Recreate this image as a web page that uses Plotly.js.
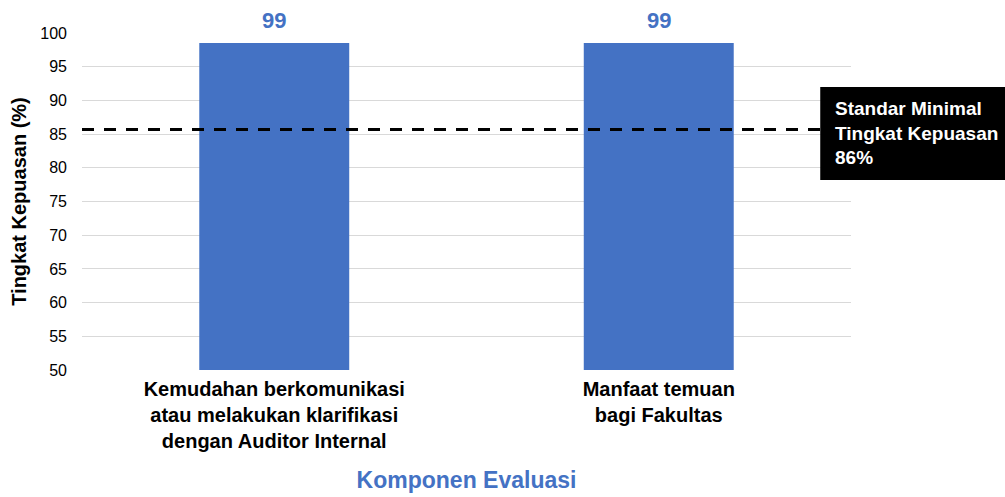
<!DOCTYPE html>
<html>
<head>
<meta charset="utf-8">
<script src="https://cdn.plot.ly/plotly-3.0.1.min.js"></script>
<style>html,body{margin:0;padding:0;background:#fff;}#chart{width:1005px;height:497px;}</style>
</head>
<body>
<div id="chart"></div>
<script>
const categories = [
  "Kemudahan berkomunikasi<br>atau melakukan klarifikasi<br>dengan Auditor Internal",
  "Manfaat temuan<br>bagi Fakultas"
];
const values = [98.5, 98.5];
const valueLabels = ["99", "99"];
const standardValue = 85.7;
const standardLabel = "Standar Minimal<br>Tingkat Kepuasan<br>86%";
const yTicks = [50, 55, 60, 65, 70, 75, 80, 85, 90, 95, 100];

const FONT = "Arial, 'Liberation Sans', sans-serif";
const BLUE = "#4472C4";

const trace = {
  type: "bar",
  x: categories,
  y: values,
  marker: { color: BLUE },
  width: 0.39,
  hoverinfo: "none"
};

const labelAnnotations = categories.map((c, i) => ({
  x: c, y: values[i], xref: "x", yref: "y",
  text: "<b>" + valueLabels[i] + "</b>",
  showarrow: false, yanchor: "bottom", yshift: 8,
  font: { family: FONT, size: 22, color: BLUE }
}));

const layout = {
  width: 1005, height: 497,
  margin: { l: 82, r: 154, t: 33, b: 127 },
  paper_bgcolor: "#fff", plot_bgcolor: "#fff",
  font: { family: FONT, color: "#000" },
  showlegend: false,
  xaxis: {
    type: "category",
    tickfont: { family: FONT, size: 20, color: "#000", weight: "bold" },
    showgrid: false, zeroline: false, showline: false,
    ticks: "", ticklabelstandoff: 5,
    title: { text: "<b>Komponen Evaluasi</b>", font: { family: FONT, size: 23, color: BLUE }, standoff: 20 }
  },
  yaxis: {
    range: [50, 100],
    tickvals: yTicks,
    tickfont: { family: FONT, size: 16, color: "#000" },
    showgrid: true, gridcolor: "#d9d9d9", gridwidth: 1,
    zeroline: false, showline: false, ticks: "",
    ticklabelstandoff: 14,
    title: { text: "<b>Tingkat Kepuasan (%)</b>", font: { family: FONT, size: 20, color: "#000" }, standoff: 8 }
  },
  shapes: [
    {
      type: "line", xref: "paper", yref: "y",
      x0: 0, x1: 1, y0: standardValue, y1: standardValue,
      line: { color: "#000", width: 3, dash: "12px,10px" }
    },
    {
      type: "rect", xref: "paper", yref: "y", layer: "above",
      x0: 0.96, x1: 1.22, y0: 78.2, y1: 92.0,
      fillcolor: "#000", line: { color: "#000", width: 0 }
    }
  ],
  annotations: labelAnnotations.concat([
    {
      xref: "paper", yref: "y", x: 0.96, y: 85.1,
      xanchor: "left", yanchor: "middle", xshift: 13,
      align: "left", showarrow: false,
      text: "<b>" + standardLabel + "</b>",
      font: { family: FONT, size: 19, color: "#fff" }
    }
  ])
};

Plotly.newPlot("chart", [trace], layout, { displayModeBar: false, staticPlot: true });
</script>
</body>
</html>
